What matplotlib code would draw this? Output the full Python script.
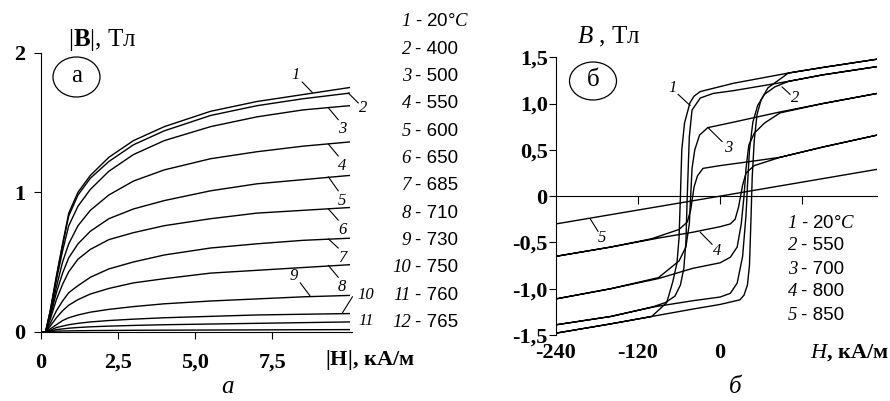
import matplotlib
matplotlib.use("Agg")
import matplotlib.pyplot as plt
from matplotlib.patches import Ellipse

plt.rcParams['font.family'] = 'Liberation Serif'
plt.rcParams['mathtext.fontset'] = 'custom'
plt.rcParams['mathtext.rm'] = 'Liberation Serif'
plt.rcParams['mathtext.it'] = 'Liberation Serif:italic'
plt.rcParams['mathtext.bf'] = 'Liberation Serif:bold'

# ---- panel a: |B|(|H|) for 12 temperatures
h_abs = [0, 0.15, 0.3, 0.5, 0.7, 0.9, 1.2, 1.6, 2.2, 3.0, 4.0, 5.5, 7.0, 8.5, 10.0]
b_20 = [0, 0, 0.15, 0.40, 0.63, 0.85, 1.00, 1.12, 1.25, 1.37, 1.47, 1.58, 1.65, 1.70, 1.75]
b_400 = [0, 0, 0.15, 0.39, 0.62, 0.83, 0.98, 1.10, 1.22, 1.34, 1.44, 1.55, 1.62, 1.67, 1.71]
b_500 = [0, 0, 0.14, 0.37, 0.58, 0.76, 0.90, 1.02, 1.15, 1.27, 1.37, 1.47, 1.54, 1.59, 1.62]
b_550 = [0, 0, 0.12, 0.32, 0.50, 0.63, 0.76, 0.87, 0.98, 1.08, 1.16, 1.24, 1.29, 1.33, 1.36]
b_600 = [0, 0, 0.11, 0.28, 0.42, 0.53, 0.63, 0.72, 0.81, 0.88, 0.94, 1.01, 1.06, 1.09, 1.12]
b_650 = [0, 0, 0.09, 0.23, 0.34, 0.43, 0.52, 0.59, 0.66, 0.71, 0.76, 0.81, 0.85, 0.87, 0.89]
b_685 = [0, 0, 0.06, 0.15, 0.22, 0.28, 0.33, 0.39, 0.45, 0.50, 0.55, 0.60, 0.63, 0.655, 0.67]
b_710 = [0, 0, 0.04, 0.10, 0.15, 0.19, 0.23, 0.27, 0.31, 0.35, 0.38, 0.42, 0.44, 0.46, 0.48]
b_730 = [0, 0, 0.02, 0.05, 0.08, 0.10, 0.12, 0.14, 0.16, 0.18, 0.20, 0.22, 0.235, 0.25, 0.26]
b_750 = [0, 0, 0.01, 0.03, 0.04, 0.05, 0.06, 0.07, 0.08, 0.09, 0.10, 0.11, 0.12, 0.125, 0.13]
b_760 = [0, 0, 0.005, 0.015, 0.02, 0.025, 0.03, 0.035, 0.04, 0.045, 0.05, 0.055, 0.06, 0.065, 0.07]
b_765 = [0, 0, 0.002, 0.004, 0.005, 0.006, 0.007, 0.008, 0.009, 0.01, 0.011, 0.012, 0.013, 0.014, 0.015]
curve_nums_a = ["1", "2", "3", "4", "5", "6", "7", "8", "9", "10", "11", "12"]
temps_a = ["20°$\\mathit{C}$", "400", "500", "550", "600", "650", "685", "710", "730", "750", "760", "765"]
xticks_a = [0, 2.5, 5.0, 7.5]
xlabels_a = ["0", "2,5", "5,0", "7,5"]
yticks_a = [0, 1, 2]
ylabels_a = ["0", "1", "2"]

# ---- panel b: hysteresis loops B(H)
h1_up = [230, 150, 100, 20, -29, -38, -44, -52, -56, -58, -60, -63, -69, -78, -100, -160, -240]
b1_up = [1.48, 1.39, 1.33, 1.22, 1.13, 1.08, 1.01, 0.79, 0.50, 0.00, -0.45, -0.72, -0.92, -1.15, -1.30, -1.38, -1.48]
h1_dn = [-240, -160, -100, -40, 0, 29, 35, 40, 43, 45, 47, 50, 54, 60, 70, 100, 150, 230]
b1_dn = [-1.48, -1.38, -1.30, -1.22, -1.17, -1.12, -1.07, -0.96, -0.75, -0.30, 0.20, 0.60, 0.88, 1.04, 1.17, 1.33, 1.39, 1.48]
h2_up = [230, 150, 100, 20, -10, -29, -41, -45, -48, -50, -53, -58, -66, -80, -100, -160, -240]
b2_up = [1.40, 1.31, 1.24, 1.14, 1.11, 1.06, 0.93, 0.64, 0.00, -0.50, -0.78, -0.96, -1.08, -1.15, -1.20, -1.30, -1.39]
h2_dn = [-240, -160, -100, -40, 0, 15, 25, 33, 38, 40, 43, 48, 55, 65, 80, 100, 150, 230]
b2_dn = [-1.39, -1.30, -1.20, -1.13, -1.09, -1.05, -0.94, -0.65, -0.20, 0.10, 0.50, 0.80, 0.98, 1.10, 1.18, 1.24, 1.31, 1.40]
h3_up = [230, 150, 88, 20, -18, -30, -37, -41, -43, -45, -50, -60, -90, -160, -240]
b3_up = [1.11, 1.00, 0.91, 0.80, 0.74, 0.66, 0.50, 0.30, 0.00, -0.30, -0.55, -0.70, -0.88, -1.00, -1.11]
h3_dn = [-240, -160, -90, -40, 0, 15, 25, 31, 35, 38, 42, 50, 65, 88, 150, 230]
b3_dn = [-1.11, -1.00, -0.89, -0.78, -0.72, -0.66, -0.55, -0.30, 0.00, 0.30, 0.55, 0.68, 0.79, 0.90, 1.00, 1.11]
h4_up = [230, 150, 88, 40, 0, -25, -33, -38, -40, -43, -48, -60, -100, -160, -240]
b4_up = [0.66, 0.53, 0.42, 0.37, 0.33, 0.30, 0.22, 0.10, 0.00, -0.15, -0.28, -0.36, -0.46, -0.55, -0.65]
h4_dn = [-240, -160, -88, -40, 0, 15, 22, 27, 30, 33, 38, 50, 88, 150, 230]
b4_dn = [-0.65, -0.55, -0.45, -0.39, -0.33, -0.30, -0.25, -0.12, 0.00, 0.12, 0.25, 0.33, 0.42, 0.53, 0.66]
h5 = [-240, 0, 230]
b5 = [-0.30, 0.00, 0.29]
curve_nums_b = ["1", "2", "3", "4", "5"]
temps_b = ["20°$\\mathit{C}$", "550", "700", "800", "850"]
yticks_b = [-1.5, -1.0, -0.5, 0, 0.5, 1.0, 1.5]
ylabels_b = ["-1,5", "-1,0", "-0,5", "0", "0,5", "1,0", "1,5"]
xticks_b = [-240, -120, 0]
xlabels_b = ["-240", "-120", "0"]

W, H = 890, 401
fig = plt.figure(figsize=(W / 100, H / 100), dpi=100)


def fpos(x, y):
    return x / W, 1 - y / H


LW = 1.0
TICK_FS = 16
LAB_FS = 18

# ================= panel a
ax = fig.add_axes([41 / W, 1 - 331.7 / H, 310.8 / W, 279 / H])
for b in [b_20, b_400, b_500, b_550, b_600, b_650, b_685, b_710, b_730, b_750, b_760, b_765]:
    ax.plot(h_abs, b, color='black', lw=LW)
ax.set_xlim(0, 10.08)
ax.set_ylim(0, 2)
for s in ['top', 'right']:
    ax.spines[s].set_visible(False)
ax.set_xticks(xticks_a)
ax.set_xticklabels(xlabels_a, fontsize=TICK_FS, fontweight='bold')
ax.set_yticks(yticks_a)
ax.set_yticklabels(ylabels_a, fontsize=TICK_FS, fontweight='bold')
ax.tick_params(axis='x', direction='out', length=5, pad=10)
ax.tick_params(axis='y', direction='out', length=5, pad=6)

# curve labels with leaders
lead_a = [
    ("1", (8.47, 1.79), (8.80, 1.715), (8.27, 1.84)),
    ("2", (9.97, 1.71), (10.29, 1.64), (10.45, 1.60)),
    ("3", (9.32, 1.605), (9.64, 1.52), (9.77, 1.45)),
    ("4", (9.32, 1.345), (9.64, 1.26), (9.77, 1.19)),
    ("5", (9.32, 1.11), (9.64, 1.01), (9.77, 0.94)),
    ("6", (9.32, 0.88), (9.64, 0.80), (9.77, 0.73)),
    ("7", (9.32, 0.665), (9.64, 0.60), (9.77, 0.53)),
    ("8", (9.32, 0.475), (9.64, 0.39), (9.77, 0.32)),
    ("9", (8.41, 0.35), (8.73, 0.255), (8.20, 0.40)),
    ("10", (10.10, 0.25), (9.77, 0.133), (10.52, 0.26)),
]
for lab, p0, p1, pt in lead_a:
    ax.plot([p0[0], p1[0]], [p0[1], p1[1]], color='black', lw=0.8, clip_on=False)
    ax.text(pt[0], pt[1], lab, fontsize=12, style='italic', ha='center', va='center')
ax.text(10.55, 0.075, "11", fontsize=12, style='italic', ha='center', va='center')

fig.text(*fpos(68, 40), r"|$\mathbf{B}$|, Тл", fontsize=LAB_FS, ha='left', va='center')
fig.text(*fpos(415, 360), r"|$\mathbf{H}$|, кА/м", fontsize=TICK_FS, fontweight='bold',
         ha='right', va='center')
fig.patches.append(Ellipse(fpos(76.5, 77), 47 / W, 40 / H, transform=fig.transFigure,
                           fill=False, lw=0.9, ec='black'))
fig.text(*fpos(76.5, 76), "а", fontsize=LAB_FS, ha='center', va='center')
fig.text(*fpos(228, 387), "а", fontsize=LAB_FS, style='italic', ha='center', va='center')

for i, (n, t) in enumerate(zip(curve_nums_a, temps_a)):
    y = 22 + 27.3 * i
    fig.text(*fpos(411, y), n, fontsize=13.5, style='italic', ha='right', va='center')
    fig.text(*fpos(415, y), "- " + t, fontsize=13.5, family='Liberation Sans', ha='left', va='center')

# ================= panel b
bx = fig.add_axes([556 / W, 1 - 335 / H, 321.3 / W, 277.7 / H])
for hu, bu, hd, bd in [(h1_up, b1_up, h1_dn, b1_dn), (h2_up, b2_up, h2_dn, b2_dn),
                       (h3_up, b3_up, h3_dn, b3_dn), (h4_up, b4_up, h4_dn, b4_dn)]:
    bx.plot(hu + hd, bu + bd, color='black', lw=LW)
bx.plot(h5, b5, color='black', lw=LW)
bx.set_xlim(-240, 230)
bx.set_ylim(-1.5, 1.5)
for s in ['top', 'right']:
    bx.spines[s].set_visible(False)
bx.spines['bottom'].set_position(('data', 0))
bx.set_xticks([-120, 0, 120])
bx.tick_params(axis='x', direction='out', length=6, labelbottom=False)
bx.set_yticks(yticks_b)
bx.set_yticklabels(ylabels_b, fontsize=TICK_FS, fontweight='bold')
bx.tick_params(axis='y', direction='out', length=5, pad=1)
for v, lab in zip(xticks_b, xlabels_b):
    bx.text(v, -1.69, lab, fontsize=TICK_FS, fontweight='bold', ha='center', va='center',
            clip_on=False)

lead_b = [
    ("1", (-61.4, 1.10), (-43.9, 0.98), (-68.8, 1.17)),
    ("2", (90.7, 1.18), (102.4, 1.10), (109.7, 1.06)),
    ("3", (-17.6, 0.74), (2.9, 0.59), (11.7, 0.52)),
    ("4", (-29.0, -0.39), (-11.7, -0.52), (-4.4, -0.59)),
    ("5", (-190.0, -0.245), (-178.5, -0.38), (-172.6, -0.45)),
]
for lab, p0, p1, pt in lead_b:
    bx.plot([p0[0], p1[0]], [p0[1], p1[1]], color='black', lw=0.8, clip_on=False)
    bx.text(pt[0], pt[1], lab, fontsize=12, style='italic', ha='center', va='center')

fig.text(*fpos(577, 37), r"$\mathit{B}$ , Тл", fontsize=LAB_FS, ha='left', va='center')
fig.text(*fpos(889, 353), r"$\mathit{H}$, кА/м", fontsize=TICK_FS, fontweight='bold',
         ha='right', va='center')
fig.patches.append(Ellipse(fpos(593, 81), 47 / W, 38 / H, transform=fig.transFigure,
                           fill=False, lw=0.9, ec='black'))
fig.text(*fpos(593, 80), "б", fontsize=LAB_FS, ha='center', va='center')
fig.text(*fpos(735, 387), "б", fontsize=LAB_FS, style='italic', ha='center', va='center')

for i, (n, t) in enumerate(zip(curve_nums_b, temps_b)):
    y = 223 + 23 * i
    fig.text(*fpos(797, y), n, fontsize=13.5, style='italic', ha='right', va='center')
    fig.text(*fpos(801, y), "- " + t, fontsize=13.5, family='Liberation Sans', ha='left', va='center')

fig.savefig("out.png", dpi=100)
